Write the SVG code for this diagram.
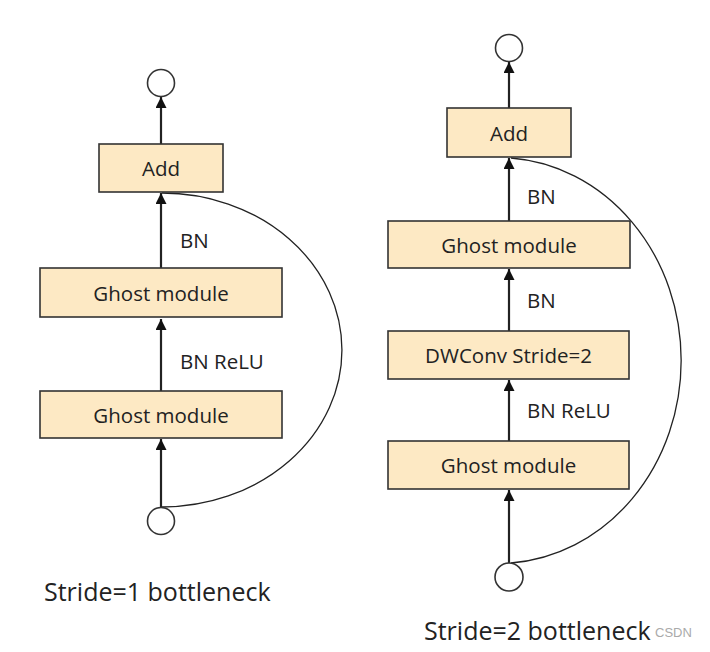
<svg xmlns="http://www.w3.org/2000/svg" width="710" height="652" viewBox="0 0 710 652">
<style>
.box{fill:#FDE9C4;stroke:#333;stroke-width:1.6}
.c{fill:#fff;stroke:#333;stroke-width:1.6}
.t{font-family:"Open Sans","Noto Sans",sans-serif;font-size:20.5px;fill:#222;text-anchor:middle;dominant-baseline:central}
.l{font-family:"Open Sans","Noto Sans",sans-serif;font-size:20.5px;fill:#222;dominant-baseline:central}
.cap{font-family:"Open Sans","Noto Sans",sans-serif;font-size:25px;fill:#222}
.e{fill:none;stroke:#222;stroke-width:2.2}
.arc{fill:none;stroke:#222;stroke-width:1.3}
</style>
<defs>
<marker id="ah" viewBox="0 0 10 10" refX="10" refY="5" markerWidth="5" markerHeight="5" markerUnits="strokeWidth" orient="auto">
<path d="M0,0 L10,5 L0,10 z" fill="#111"/>
</marker>
</defs>
<rect width="710" height="652" fill="#fff"/>
<g id="connectors">
<line class="e" x1="161" y1="144" x2="161" y2="97" marker-end="url(#ah)"/>
<line class="e" x1="161" y1="268" x2="161" y2="193" marker-end="url(#ah)"/>
<line class="e" x1="161" y1="391" x2="161" y2="319" marker-end="url(#ah)"/>
<line class="e" x1="161" y1="507" x2="161" y2="439" marker-end="url(#ah)"/>
<path class="arc" d="M162,193 A180,157 0 0 1 162,507"/>
<line class="e" x1="509" y1="108" x2="509" y2="62" marker-end="url(#ah)"/>
<line class="e" x1="509" y1="221" x2="509" y2="158" marker-end="url(#ah)"/>
<line class="e" x1="509" y1="331" x2="509" y2="269" marker-end="url(#ah)"/>
<line class="e" x1="509" y1="441" x2="509" y2="380" marker-end="url(#ah)"/>
<line class="e" x1="509" y1="563" x2="509" y2="490" marker-end="url(#ah)"/>
<path class="arc" d="M511,158 A183,203 0 0 1 511,563"/>
<text class="l" x="180" y="240">BN</text>
<text class="l" x="180" y="361">BN ReLU</text>
<text class="l" x="527" y="196">BN</text>
<text class="l" x="527" y="300">BN</text>
<text class="l" x="527" y="410">BN ReLU</text>
</g>
<g id="in1"><circle class="c" cx="161" cy="521" r="13.5"/></g>
<g id="out1"><circle class="c" cx="161" cy="83" r="13.5"/></g>
<g id="add1"><rect class="box" x="99" y="144" width="124" height="48"/><text class="t" x="161" y="168">Add</text></g>
<g id="ghost1a"><rect class="box" x="40" y="268" width="242" height="49"/><text class="t" x="161" y="292.5">Ghost module</text></g>
<g id="ghost1b"><rect class="box" x="40" y="391" width="242" height="47"/><text class="t" x="161" y="414.5">Ghost module</text></g>
<g id="in2"><circle class="c" cx="509" cy="577" r="14"/></g>
<g id="out2"><circle class="c" cx="509" cy="48" r="13.5"/></g>
<g id="add2"><rect class="box" x="447" y="108" width="124" height="49"/><text class="t" x="509" y="132.5">Add</text></g>
<g id="ghost2a"><rect class="box" x="388" y="221" width="242" height="47"/><text class="t" x="509" y="244.5">Ghost module</text></g>
<g id="dw2"><rect class="box" x="388" y="331" width="241" height="48"/><text class="t" x="508.5" y="355">DWConv Stride=2</text></g>
<g id="ghost2b"><rect class="box" x="388" y="441" width="241" height="48"/><text class="t" x="508.5" y="465">Ghost module</text></g>
<text class="cap" x="44" y="601">Stride=1 bottleneck</text>
<text class="cap" x="424" y="640">Stride=2 bottleneck</text>
<text x="655" y="637" font-family="Liberation Sans,sans-serif" font-size="13" fill="#aaa">CSDN</text>
</svg>
